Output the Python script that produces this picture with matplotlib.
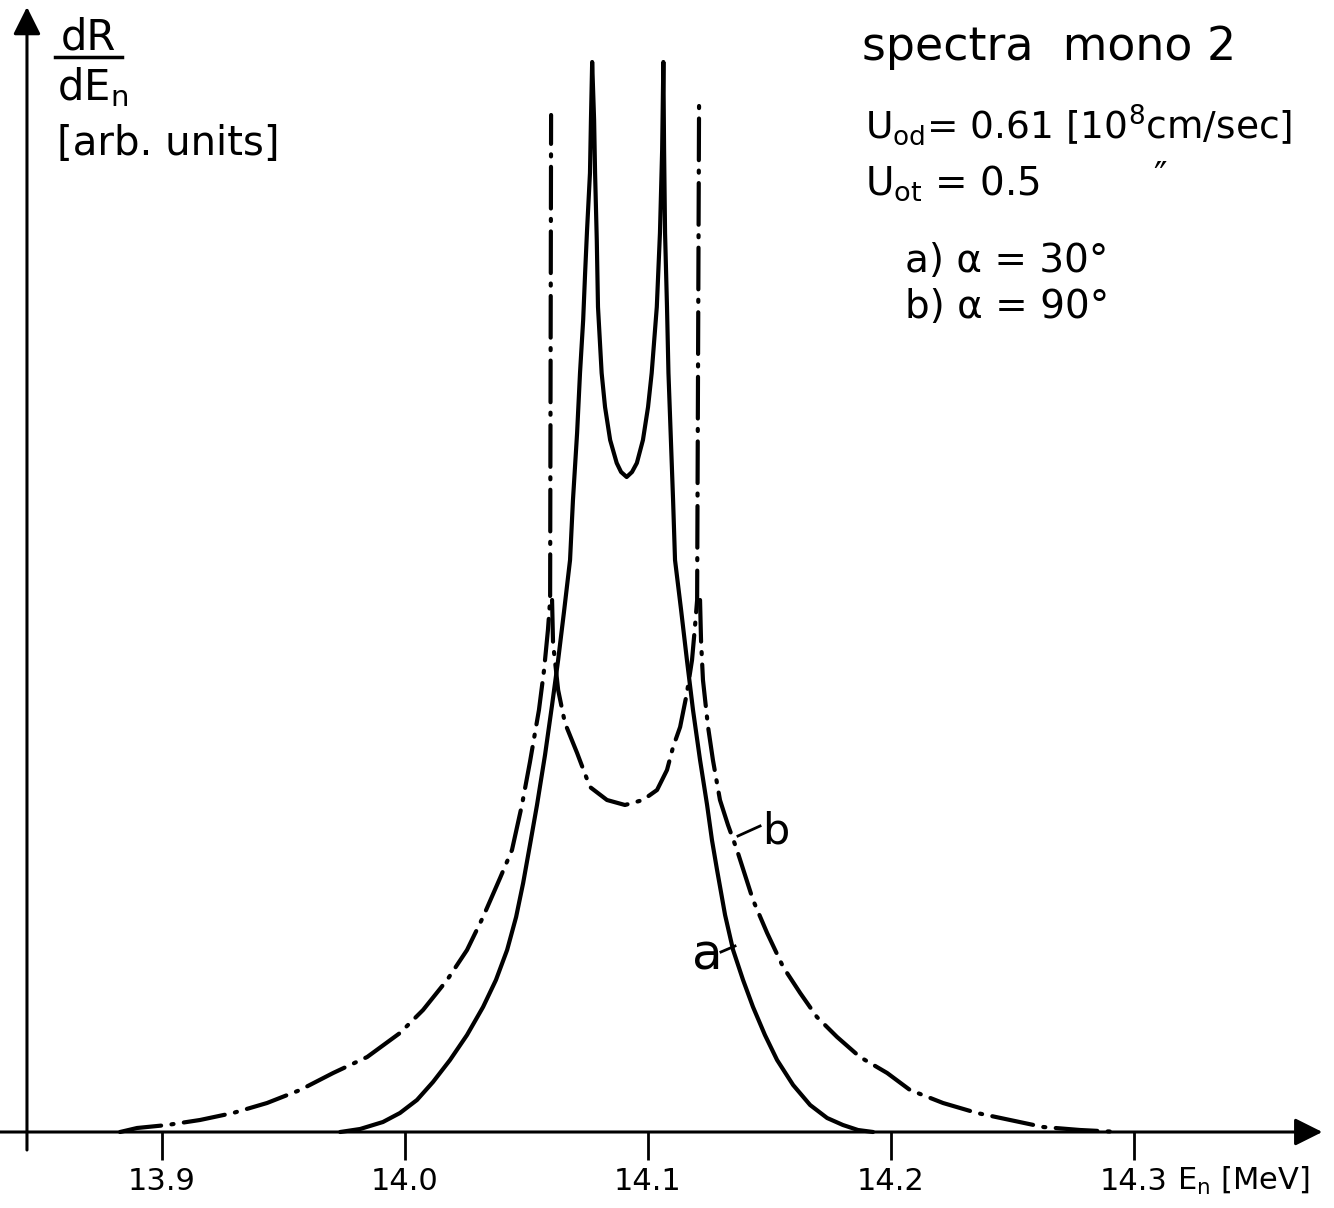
import numpy as np
import matplotlib.pyplot as plt

# spectra mono 2, curve a (alpha = 30 deg): E_n [MeV] and dR/dE_n [arb. units]
E_a = [13.9733, 13.9815, 13.9909, 13.9979, 14.0049, 14.0115, 14.0185, 14.0255,
       14.0321, 14.0374, 14.0420, 14.0457, 14.0486, 14.0514, 14.0543, 14.0576,
       14.0605, 14.0630, 14.0654, 14.0679, 14.0691, 14.0708, 14.0720, 14.0733,
       14.0741, 14.0749, 14.0761, 14.0765, 14.0770,
       14.0778, 14.0782, 14.0789, 14.0794, 14.0809, 14.0823, 14.0844, 14.0871,
       14.0889, 14.0912, 14.0934, 14.0954, 14.0979, 14.1000, 14.1015, 14.1036,
       14.1049, 14.1058, 14.1063,
       14.1066, 14.1070, 14.1078, 14.1084, 14.1093, 14.1103, 14.1111, 14.1136,
       14.1160, 14.1185, 14.1214, 14.1243, 14.1263, 14.1284, 14.1317, 14.1350,
       14.1391, 14.1432, 14.1481, 14.1531, 14.1597, 14.1667, 14.1737, 14.1802,
       14.1864, 14.1926]
R_a = [0.00, 0.03, 0.10, 0.19, 0.32, 0.50, 0.72, 0.97,
       1.25, 1.52, 1.82, 2.15, 2.49, 2.87, 3.27, 3.77,
       4.27, 4.72, 5.20, 5.72, 6.32, 6.99, 7.59, 8.12,
       8.59, 9.02, 9.59, 10.12, 10.70,
       10.12, 9.59, 8.92, 8.25, 7.59, 7.25, 6.92, 6.69,
       6.60, 6.55, 6.60, 6.69, 6.92, 7.25, 7.59, 8.25,
       8.99, 9.82, 10.70,
       9.82, 8.99, 8.25, 7.59, 6.99, 6.32, 5.72, 5.22,
       4.72, 4.22, 3.72, 3.27, 2.92, 2.62, 2.17, 1.82,
       1.52, 1.25, 0.97, 0.72, 0.47, 0.27, 0.14, 0.07,
       0.02, 0.00]

# curve b (alpha = 90 deg): outer left branch with its spike, inner branch, outer right branch
E_b_left = [13.8827, 13.8897, 13.9021, 13.9156, 13.9292, 13.9432, 13.9568, 13.9704,
            13.9844, 13.9979, 14.0074, 14.0173, 14.0255, 14.0321, 14.0391, 14.0440,
            14.0481, 14.0514, 14.0551, 14.0572, 14.0588, 14.0597, 14.0601]
R_b_left = [0.00, 0.04, 0.07, 0.12, 0.19, 0.29, 0.42, 0.59,
            0.75, 0.99, 1.22, 1.52, 1.82, 2.15, 2.54, 2.82,
            3.27, 3.70, 4.22, 4.62, 5.02, 5.32, 10.17]
E_b_mid = [14.0605, 14.0609, 14.0630, 14.0658, 14.0708, 14.0761, 14.0831, 14.0905,
           14.0979, 14.1037, 14.1078, 14.1103, 14.1132, 14.1160, 14.1181, 14.1193,
           14.1202, 14.1210]
R_b_mid = [5.32, 4.89, 4.42, 4.09, 3.79, 3.45, 3.32, 3.27,
           3.32, 3.42, 3.62, 3.85, 4.05, 4.39, 4.72, 5.05,
           5.32, 10.32]
E_b_right = [14.1214, 14.1218, 14.1226, 14.1247, 14.1267, 14.1296, 14.1329, 14.1366,
             14.1399, 14.1432, 14.1490, 14.1556, 14.1626, 14.1695, 14.1778, 14.1872,
             14.1984, 14.2078, 14.2214, 14.2354, 14.2490, 14.2626, 14.2778, 14.2942]
R_b_right = [5.32, 4.92, 4.52, 4.05, 3.72, 3.32, 3.07, 2.82,
             2.57, 2.32, 1.99, 1.65, 1.39, 1.15, 0.95, 0.75,
             0.59, 0.42, 0.29, 0.19, 0.12, 0.05, 0.02, 0.00]

ticks = [13.9, 14.0, 14.1, 14.2, 14.3]
tick_labels = ['13.9', '14.0', '14.1', '14.2', '14.3']

fig = plt.figure(figsize=(13.34, 12.08), dpi=100)
ax = fig.add_axes([0, 0, 1, 1])
ax.set_xlim(13.8333, 14.3823)
ax.set_ylim(-0.76, 11.32)
ax.axis('off')

# axes with arrows
ax.annotate('', xy=(14.3775, 0), xytext=(13.8333, 0),
            arrowprops=dict(arrowstyle='-|>', lw=2.2, color='k', mutation_scale=42,
                            shrinkA=0, shrinkB=0))
ax.annotate('', xy=(13.8444, 11.25), xytext=(13.8444, -0.18),
            arrowprops=dict(arrowstyle='-|>', lw=2.2, color='k', mutation_scale=42,
                            shrinkA=0, shrinkB=0))
ax.vlines(ticks, -0.28, 0.0, color='k', lw=2)

for t, lab in zip(ticks, tick_labels):
    ax.text(t, -0.58, lab, ha='center', va='baseline', fontsize=22)
ax.text(14.3177, -0.58, r'E$_\mathregular{n}$ [MeV]', ha='left', va='baseline', fontsize=22)

# curves
ax.plot(E_a, R_a, color='k', lw=3, solid_joinstyle='round', solid_capstyle='round')
dashdot = (0, (10, 2.5, 0.5, 2.5))
for xs, ys in [(E_b_left, R_b_left), (E_b_mid, R_b_mid), (E_b_right, R_b_right)]:
    ax.plot(xs, ys, color='k', lw=3, ls=dashdot,
            dash_capstyle='round', dash_joinstyle='round')

# y label as a fraction
ax.text(13.8695, 10.82, 'dR', ha='center', va='baseline', fontsize=30)
ax.plot([13.8560, 13.8835], [10.75, 10.75], color='k', lw=2.5)
ax.text(13.8568, 10.32, r'dE$_\mathregular{n}$', ha='left', va='baseline', fontsize=30)
ax.text(13.8568, 9.77, '[arb. units]', ha='left', va='baseline', fontsize=29)

# title block
ax.text(14.1881, 10.72, 'spectra  mono 2', ha='left', va='baseline', fontsize=33)
ax.text(14.1893, 9.94, r'U$_\mathregular{od}$= 0.61 [10$^\mathregular{8}$cm/sec]',
        ha='left', va='baseline', fontsize=27)
ax.text(14.1893, 9.37, r'U$_\mathregular{ot}$ = 0.5', ha='left', va='baseline', fontsize=28)
ax.text(14.3107, 9.55, '\u2033', ha='center', va='center', fontsize=26)
ax.text(14.2058, 8.60, 'a) \u03b1 = 30\u00b0', ha='left', va='baseline', fontsize=28)
ax.text(14.2058, 8.14, 'b) \u03b1 = 90\u00b0', ha='left', va='baseline', fontsize=28)

# curve labels
ax.text(14.1469, 2.89, 'b', ha='left', va='baseline', fontsize=31)
ax.plot([14.1370, 14.1461], [2.96, 3.06], color='k', lw=2)
ax.text(14.1181, 1.62, 'a', ha='left', va='baseline', fontsize=36)
ax.plot([14.1300, 14.1358], [1.80, 1.86], color='k', lw=2)

fig.savefig('out.png', dpi=100)
